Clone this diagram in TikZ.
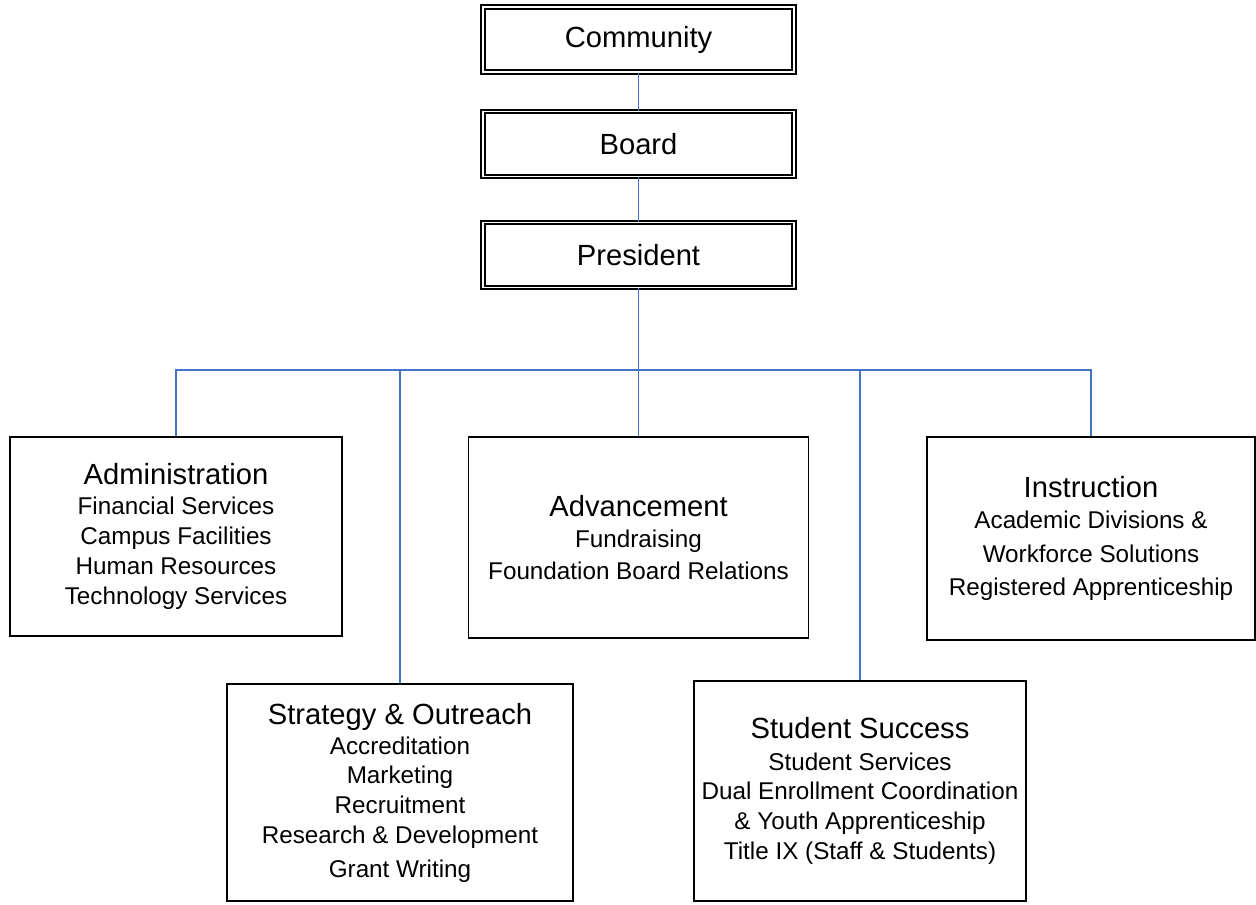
\documentclass[tikz,border=0pt]{standalone}
\usepackage{fontspec}
\setmainfont{Liberation Sans}
\usepackage{xcolor}
\definecolor{link-blue}{HTML}{4472C4}
\newcommand{\unitname}[1]{{\fontsize{16.6}{17}\selectfont #1}}

\begin{document}
\begin{tikzpicture}[x=0.02cm, y=-0.02cm,
        every node/.style={font=\fontsize{13.8}{17}\selectfont},
        topbox/.style={draw, line width=0.9pt, double, double distance=1.1pt,
          minimum width=6.22cm, minimum height=1.3cm, inner sep=0pt,
          font=\fontsize{16.6}{17}\selectfont},
        unitbox/.style={draw, line width=0.8pt, align=center, inner sep=0pt},
        link/.style={link-blue, line width=0.7pt}]
      \useasboundingbox (0,0) rectangle (1256,904);
      % governance chain
      \node[topbox] (community) at (638.5,39.5) {Community};
      \node[topbox] (board) at (638.5,144) {Board};
      \node[topbox] (president) at (638.5,255) {President};
      % units
      \node[unitbox, minimum width=6.64cm, minimum height=3.98cm] (admin) at (176,536.5)
            {\unitname{Administration}\\ Financial Services\\ Campus Facilities\\
             Human Resources\\ Technology Services};
      \node[unitbox, minimum width=6.8cm, minimum height=4.02cm] (adv) at (638.5,537.5)
            {\unitname{Advancement}\\[1pt] Fundraising\\[1pt] Foundation Board Relations};
      \node[unitbox, minimum width=6.56cm, minimum height=4.06cm] (instr) at (1091,538.5)
            {\unitname{Instruction}\\[1pt] Academic Divisions \&\\[2pt] Workforce Solutions\\[2pt]
             Registered Apprenticeship};
      \node[unitbox, minimum width=6.92cm, minimum height=4.34cm] (strat) at (400,792.5)
            {\unitname{Strategy \& Outreach}\\ Accreditation\\ Marketing\\ Recruitment\\
             Research \& Development\\[2pt] Grant Writing};
      \node[unitbox, minimum width=6.64cm, minimum height=4.4cm] (success) at (860,791)
            {\unitname{Student Success}\\[1pt] Student Services\\ Dual Enrollment Coordination\\
             \& Youth Apprenticeship\\ Title IX (Staff \& Students)};
      % connectors
      \coordinate (bus) at (638.5,370);
      \draw[link] (community) -- (board);
      \draw[link] (board) -- (president);
      \draw[link] (president) -- (adv);
      \draw[link] (admin.north) -- (admin.north |- bus) -| (instr.north);
      \draw[link] (strat.north) -- (strat.north |- bus);
      \draw[link] (success.north) -- (success.north |- bus);
    \end{tikzpicture}
\end{document}
